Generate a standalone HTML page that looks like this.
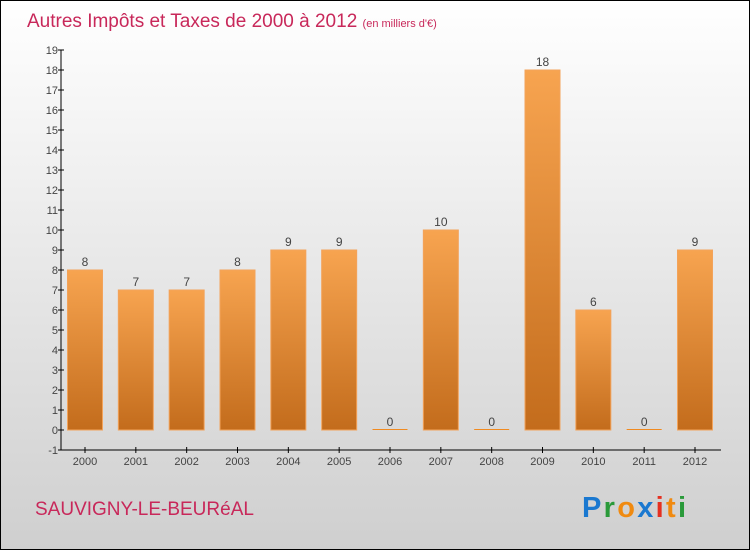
<!DOCTYPE html>
<html><head><meta charset="utf-8"><style>
body{margin:0}
svg{display:block;font-family:"Liberation Sans",sans-serif}
</style></head><body>
<svg width="750" height="550" xmlns="http://www.w3.org/2000/svg">
<defs>
<linearGradient id="bg" x1="0" y1="0" x2="0" y2="1"><stop offset="0" stop-color="#ffffff"/><stop offset="1" stop-color="#cfcfcf"/></linearGradient>
<linearGradient id="bar" x1="0" y1="0" x2="0" y2="1"><stop offset="0" stop-color="#f7a450"/><stop offset="1" stop-color="#c36c1c"/></linearGradient>
</defs>
<rect x="0.5" y="0.5" width="749" height="549" fill="url(#bg)" stroke="#000"/>
<text x="27" y="27" font-size="19" fill="#c8285a">Autres Impôts et Taxes de 2000 à 2012 <tspan font-size="11">(en milliers d'€)</tspan></text>
<g id="axes"></g>
<g id="bars"></g>
<text x="35" y="515" font-size="19" fill="#c8285a">SAUVIGNY-LE-BEURéAL</text>
<g font-size="29" font-weight="bold">
<text x="582" y="517" textLength="104"><tspan fill="#1a78d0">P</tspan><tspan fill="#2a9a3a">r</tspan><tspan fill="#f08a10">o</tspan><tspan fill="#1a78d0">x</tspan><tspan fill="#e53020">i</tspan><tspan fill="#f08a10">t</tspan><tspan fill="#2a9a3a">i</tspan></text>
</g>
</svg>
<script>
const categories=["2000","2001","2002","2003","2004","2005","2006","2007","2008","2009","2010","2011","2012"];
const values=[8,7,7,8,9,9,0,10,0,18,6,0,9];
const yTicks=[-1,0,1,2,3,4,5,6,7,8,9,10,11,12,13,14,15,16,17,18,19];
const NS="http://www.w3.org/2000/svg";
const x0=61,x1=721,yMin=-1,yMax=19,py0=450,py1=50;
const y=v=>py0-(v-yMin)/(yMax-yMin)*(py0-py1);
const step=(695-85)/(categories.length-1);
const xc=i=>85+step*i;
function mk(t,a,p){const e=document.createElementNS(NS,t);for(const k in a)e.setAttribute(k,a[k]);p.appendChild(e);return e;}
const ax=document.getElementById('axes'),bs=document.getElementById('bars');
let l=mk('line',{x1:x0,y1:py1,x2:x0,y2:py0,stroke:'#000'},ax);


l=mk('line',{x1:x0,y1:py0,x2:x1,y2:py0,stroke:'#000'},ax);


yTicks.forEach(v=>{
 mk('line',{x1:x0-3,y1:y(v),x2:x0+3,y2:y(v),stroke:'#000'},ax);
 const t=mk('text',{x:x0-3,y:y(v)+4,'font-size':11,fill:'#444','text-anchor':'end'},ax);
 t.textContent=v;
 
 
});
categories.forEach((c,i)=>{
 const cx=xc(i);
 mk('line',{x1:cx,y1:py0-3,x2:cx,y2:py0+3,stroke:'#000'},ax);
 const t=mk('text',{x:cx,y:py0+15,'font-size':11,fill:'#444','text-anchor':'middle'},ax);
 t.textContent=c;
 
 
 const v=values[i];
 const top=y(v),h=Math.max(y(0)-top,1);
 const r=mk('rect',{x:cx-17.5,y:v===0?y(0)-1:top,width:35,height:h,fill:v===0?'#f08a20':'url(#bar)',stroke:'#f3a35a','stroke-width':v===0?0:1},bs);
 
 
 const lb=mk('text',{x:cx,y:top-4,'font-size':12,fill:'#444','text-anchor':'middle'},bs);
 lb.textContent=v;
 
 
});
</script>
</body></html>
